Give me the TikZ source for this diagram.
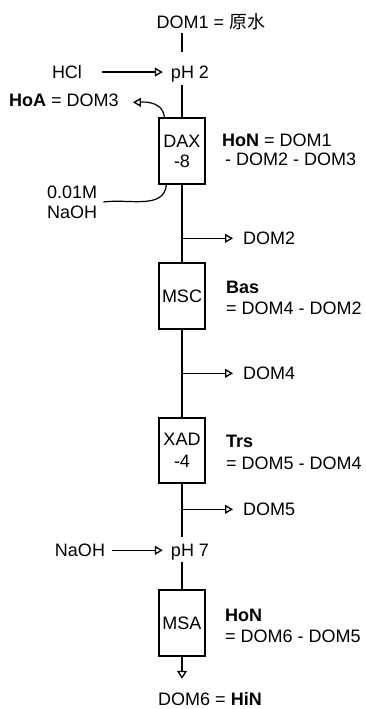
\documentclass[tikz,border=0pt]{standalone}
\usepackage{fontspec}
\setmainfont{Liberation Sans}
\newfontfamily\cjk{Noto Sans CJK SC}
\usetikzlibrary{arrows.meta}
\begin{document}
\begin{tikzpicture}[x=1pt,y=1pt,
  every node/.style={font=\fontsize{18}{21}\selectfont, inner sep=0pt},
  txt/.style={anchor=base},
  lbl/.style={anchor=west, align=left},
  unit/.style={draw, line width=1.2pt, minimum width=46pt, minimum height=66pt, align=center, font=\fontsize{18}{20}\selectfont},
  spine/.style={line width=1.5pt},
  arr/.style={line width=1.2pt, -{Triangle[open,length=8pt,width=9pt,line width=1.3pt]}},
]
\useasboundingbox (0,0) rectangle (366,-709);

% text nodes
\node[txt] (dom1) at (211,-28.5) {DOM1 = {\cjk 原水}};
\node[txt] (ph2) at (190,-78.5) {pH 2};
\node[txt] (hcl) at (67,-78.5) {HCl};
\node[txt] (hoa) at (64,-106.5) {\textbf{HoA} = DOM3};
\node[lbl, font=\fontsize{18}{19}\selectfont] (hon1) at (222,-150) {\textbf{HoN} = DOM1\\\hspace*{3pt}- DOM2 - DOM3};
\node[lbl, font=\fontsize{18}{20}\selectfont] (naoha) at (47,-202) {0.01M\\NaOH};
\node[lbl] (bas) at (226,-297.5) {\textbf{Bas}\\= DOM4 - DOM2};
\node[lbl, font=\fontsize{18}{22}\selectfont] (trs) at (226,-452) {\textbf{Trs}\\= DOM5 - DOM4};
\node[lbl] (hon2) at (225,-625.5) {\textbf{HoN}\\= DOM6 - DOM5};
\node[txt] (ph7) at (190,-556.5) {pH 7};
\node[txt] (naohb) at (80,-556.5) {NaOH};
\node[txt] (dom6) at (210,-705.5) {DOM6 = \textbf{HiN}};
\node[anchor=base west] (dom2) at (243,-244.5) {DOM2};
\node[anchor=base west] (dom4) at (243,-379.5) {DOM4};
\node[anchor=base west] (dom5) at (243,-515.5) {DOM5};

% units
\node[unit] (dax) at (182,-151) {DAX\\-8};
\node[unit] (msc) at (182,-296) {MSC};
\node[unit, minimum height=65pt, font=\fontsize{18}{22}\selectfont] (xad) at (182,-450.5) {XAD\\-4};
\node[unit] (msa) at (182,-623) {MSA};

% spine
\draw[spine, shorten <=2.5pt, shorten >=13.5pt] (dom1.south -| dax.north) -- (ph2.north -| dax.north);
\draw[spine, shorten <=2.7pt] (ph2.south -| dax.north) -- (dax.north);
\draw[spine] (dax.south) -- (msc.north);
\draw[spine] (msc.south) -- (xad.north);
\draw[spine, shorten >=6.5pt] (xad.south) -- (ph7.north -| xad.south);
\draw[spine, shorten <=2pt] (ph7.south -| msa.north) -- (msa.north);
\draw[spine, -{Triangle[open,length=8pt,width=10pt,line width=1.3pt]}, shorten >=13.5pt] (msa.south) -- (dom6.north -| msa.south);

% branches
\draw[arr, shorten >=10pt] (dom2.west -| dax.south) -- (dom2.west);
\draw[arr, shorten >=10pt] (dom4.west -| msc.south) -- (dom4.west);
\draw[arr, shorten >=10pt] (dom5.west -| xad.south) -- (dom5.west);

% reagents
\draw[arr, shorten <=20pt, shorten >=8pt] (hcl.east) -- (hcl.east -| ph2.west);
\draw[arr, shorten <=7pt, shorten >=8pt] (naohb.east) -- (naohb.east -| ph7.west);

% curves
\draw[arr, shorten >=14pt] ([xshift=6pt]dax.north west) to[out=95,in=0] ([yshift=-2pt]hoa.east);
\draw[line width=1.2pt] ([xshift=8pt]dax.south west) to[out=-95,in=8] ([xshift=6pt]naoha.east);
\end{tikzpicture}
\end{document}
